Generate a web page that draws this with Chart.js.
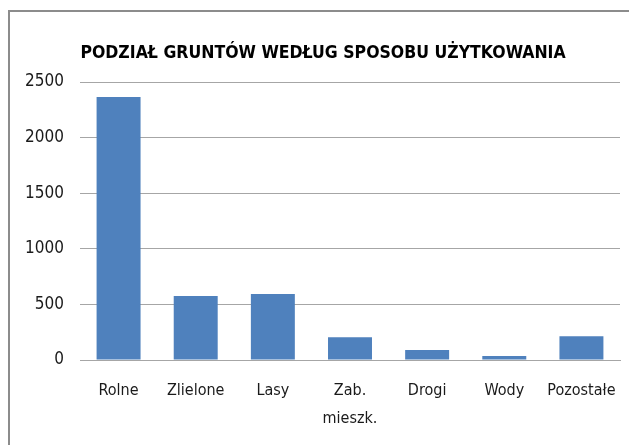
<!DOCTYPE html>
<html>
<head>
<meta charset="utf-8">
<script src="https://cdn.jsdelivr.net/npm/chart.js@4/dist/chart.umd.min.js"></script>
<style>
    html, body { margin: 0; padding: 0; background: #fff; }
    #wrap { position: relative; width: 629px; height: 445px; overflow: hidden; }
    #frame { position: absolute; left: 8px; top: 10px; width: 700px; height: 500px; border: 2px solid #8c8c8c; box-sizing: border-box; }
    #chart { position: absolute; left: 0; top: 0; }
</style>
</head>
<body>
<div id="wrap">
    <div id="frame"></div>
    <canvas id="chart" width="629" height="445"></canvas>
</div>
<script>
// Dane
const categories = ['Rolne', 'Zlielone', 'Lasy', ['Zab.', 'mieszk.'], 'Drogi', 'Wody', 'Pozostałe'];
const areaValues = [2365, 575, 593, 204, 90, 36, 213];
const yTicks = [0, 500, 1000, 1500, 2000, 2500];

const fontFamily = '"Liberation Sans Narrow", "DejaVu Sans Condensed", "Liberation Sans", sans-serif';

const ctx = document.getElementById('chart').getContext('2d');
const myChart = new Chart(ctx, {
    type: 'bar',
    data: {
        labels: categories,
        datasets: [{
            label: 'Powierzchnia',
            data: areaValues,
            backgroundColor: '#4f81bd',
            borderWidth: 0,
            barPercentage: 0.57,
            categoryPercentage: 1.0
        }]
    },
    options: {
        responsive: false,
        animation: false,
        layout: { padding: { left: 26, right: 9, top: 0, bottom: 0 } },
        scales: {
            x: {
                grid: { display: false, drawTicks: false },
                border: { display: true, color: '#a6a6a6', width: 1 },
                ticks: {
                    color: '#1a1a1a',
                    padding: 17,
                    maxRotation: 0,
                    autoSkip: false,
                    font: { family: fontFamily, size: 16, lineHeight: 1.75 }
                },
                afterFit: scale => {
                    scale.height = 85;
                    scale.paddingLeft = 0;
                    scale.paddingRight = 0;
                }
            },
            y: {
                min: 0,
                max: 2500,
                afterBuildTicks: scale => { scale.ticks = yTicks.map(v => ({ value: v })); },
                grid: { color: '#a6a6a6', drawTicks: false },
                border: { display: false },
                ticks: {
                    color: '#1a1a1a',
                    padding: 16,
                    font: { family: fontFamily, size: 17 },
                    callback: value => String(value)
                },
                afterFit: scale => { scale.width = 54; }
            }
        },
        plugins: {
            legend: { display: false },
            tooltip: { enabled: false },
            title: {
                display: true,
                text: 'PODZIAŁ GRUNTÓW WEDŁUG SPOSOBU UŻYTKOWANIA',
                color: '#000',
                font: { family: fontFamily, size: 17.5, weight: 'bold' },
                padding: { top: 43, bottom: 18 }
            }
        }
    }
});
</script>
</body>
</html>
